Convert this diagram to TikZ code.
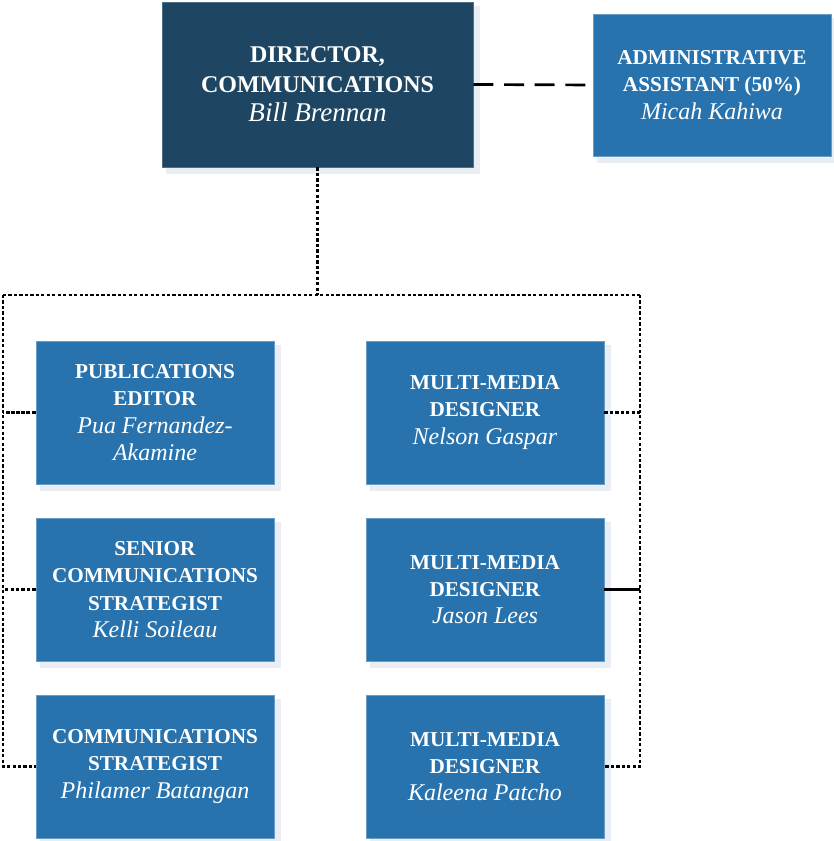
\documentclass[tikz,border=0pt]{standalone}
\usepackage{fontspec}
\setmainfont{Liberation Serif}
\usetikzlibrary{backgrounds}
\definecolor{navy}{HTML}{1E4663}
\definecolor{navyedge}{HTML}{4F6F88}
\definecolor{staff}{HTML}{2873AD}
\definecolor{staffedge}{HTML}{6A9CC8}
\definecolor{shadowgray}{HTML}{E8EEF3}
\tikzset{
  box/.style={rectangle, draw=staffedge, line width=0.6pt, fill=staff,
    text=white, align=center, minimum width=178.5pt, minimum height=107.25pt,
    inner sep=0pt, font=\fontsize{15.9pt}{20.5pt}\selectfont},
  headbox/.style={box, draw=navyedge, fill=navy, minimum width=233.25pt,
    minimum height=123.75pt, font=\fontsize{18pt}{22pt}\selectfont},
  dotline/.style={line width=1.7pt, dash pattern=on 2.4pt off 1.7pt},
  fineline/.style={line width=1.7pt, dash pattern=on 3pt off 0.9pt},
  solidline/.style={line width=1.6pt},
  dashline/.style={line width=2pt, dash pattern=on 15pt off 8pt},
}
% person names, set a size up from the titles
\newcommand{\nm}[1]{{\fontsize{18pt}{20.5pt}\selectfont\itshape #1}}
\newcommand{\headnm}[1]{{\fontsize{20.3pt}{22pt}\selectfont\itshape #1}}
\newcommand{\castshadow}[1]{%
  \fill[shadowgray] ([xshift=3pt,yshift=-3pt]#1.north west)
    rectangle ([xshift=5.25pt,yshift=-5.25pt]#1.south east);}
\begin{document}
\begin{tikzpicture}[x=0.75pt,y=-0.75pt]
\useasboundingbox (0,0) rectangle (833,841);

% director and assistant
\node[headbox] (dir) at (317.5,84.5)
  {\textbf{DIRECTOR,}\\\textbf{COMMUNICATIONS}\\\headnm{Bill Brennan}};
\node[box, minimum height=106.5pt] (adm) at (712,85)
  {\textbf{ADMINISTRATIVE}\\\textbf{ASSISTANT (50\%)}\\\nm{Micah Kahiwa}};

% left column
\node[box] (pe) at (155,412.5)
  {\textbf{PUBLICATIONS}\\\textbf{EDITOR}\\\nm{Pua Fernandez-}\\\nm{Akamine}};
\node[box] (sc) at (155,589.5)
  {\textbf{SENIOR}\\\textbf{COMMUNICATIONS}\\\textbf{STRATEGIST}\\\nm{Kelli Soileau}};
\node[box] (cs) at (155,766.5)
  {\textbf{COMMUNICATIONS}\\\textbf{STRATEGIST}\\\nm{Philamer Batangan}};

% right column
\node[box] (md1) at (485,412.5)
  {\textbf{MULTI-MEDIA}\\\textbf{DESIGNER}\\\nm{Nelson Gaspar}};
\node[box] (md2) at (485,589.5)
  {\textbf{MULTI-MEDIA}\\\textbf{DESIGNER}\\\nm{Jason Lees}};
\node[box] (md3) at (485,766.5)
  {\textbf{MULTI-MEDIA}\\\textbf{DESIGNER}\\\nm{Kaleena Patcho}};

\begin{scope}[on background layer]
  \foreach \n in {dir,adm,pe,sc,cs,md1,md2,md3} {\castshadow{\n}}
\end{scope}

% reporting lines
\coordinate (busM) at (317.5,295);
\coordinate (busL) at (3,295);
\coordinate (busR) at (640,295);

\draw[dashline] (dir.east) -- (adm.west);
\draw[dotline] (dir.south) -- (busM);
\draw[dotline] (busL) -- (busR);
\draw[dotline] (busL) |- (cs.west);
\draw[dotline] (busR) |- (md3.east);
\draw[fineline] (pe.west) -- (pe.west -| busL);
\draw[dotline] (sc.west) -- (sc.west -| busL);
\draw[dotline] (md1.east) -- (md1.east -| busR);
\draw[solidline] (md2.east) -- (md2.east -| busR);
\end{tikzpicture}
\end{document}
